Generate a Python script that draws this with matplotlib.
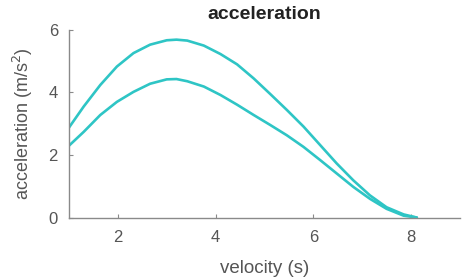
import matplotlib
matplotlib.use("Agg")
import matplotlib.pyplot as plt

plt.rcParams['font.family'] = ['Liberation Sans', 'DejaVu Sans']

# Upper curve
v_upper = [1.0, 1.30, 1.64, 1.98, 2.32, 2.66, 3.00, 3.20, 3.42, 3.76, 4.10, 4.44, 4.78,
           5.12, 5.46, 5.80, 6.14, 6.48, 6.82, 7.16, 7.50, 7.85, 8.12]
a_upper = [2.88, 3.55, 4.24, 4.83, 5.26, 5.53, 5.67, 5.69, 5.66, 5.50, 5.23, 4.90, 4.45,
           3.95, 3.44, 2.91, 2.32, 1.73, 1.19, 0.71, 0.33, 0.10, 0.0]
# Lower curve
v_lower = [1.0, 1.30, 1.64, 1.98, 2.32, 2.66, 3.00, 3.20, 3.42, 3.76, 4.10, 4.44, 4.78,
           5.12, 5.46, 5.80, 6.14, 6.48, 6.82, 7.16, 7.50, 7.85, 8.12]
a_lower = [2.30, 2.74, 3.28, 3.70, 4.02, 4.28, 4.42, 4.43, 4.36, 4.19, 3.92, 3.61, 3.28,
           2.96, 2.63, 2.26, 1.84, 1.41, 0.98, 0.60, 0.28, 0.06, 0.0]

x_ticks = [2, 4, 6, 8]
y_ticks = [0, 2, 4, 6]

fig = plt.figure(figsize=(4.77, 2.80), dpi=100)
ax = fig.add_axes([0.1447, 0.223, 0.8193, 0.670])

col = '#2ec5c5'
ax.plot(v_upper, a_upper, color=col, lw=1.9, solid_joinstyle='round', solid_capstyle='round')
ax.plot(v_lower, a_lower, color=col, lw=1.9, solid_joinstyle='round', solid_capstyle='round')

ax.set_xlim(1, 9)
ax.set_ylim(0, 6)
ax.set_xticks(x_ticks)
ax.set_yticks(y_ticks)
for sp in ['top', 'right']:
    ax.spines[sp].set_visible(False)
for sp in ['left', 'bottom']:
    ax.spines[sp].set_color('#8a8a8a')
    ax.spines[sp].set_linewidth(1.0)
ax.tick_params(direction='in', length=3, color='#8a8a8a', labelcolor='#555555', labelsize=12)
ax.tick_params(axis='x', pad=9)
ax.tick_params(axis='y', pad=8)
ax.set_xlabel('velocity (s)', fontsize=13.5, color='#555555', labelpad=11)
ax.set_ylabel('acceleration (m/s$^2$)', fontsize=13, color='#555555', labelpad=10)
ax.set_title('acceleration', fontsize=14, fontweight='bold', color='#222222', pad=8)

fig.savefig('out.png', dpi=100)
